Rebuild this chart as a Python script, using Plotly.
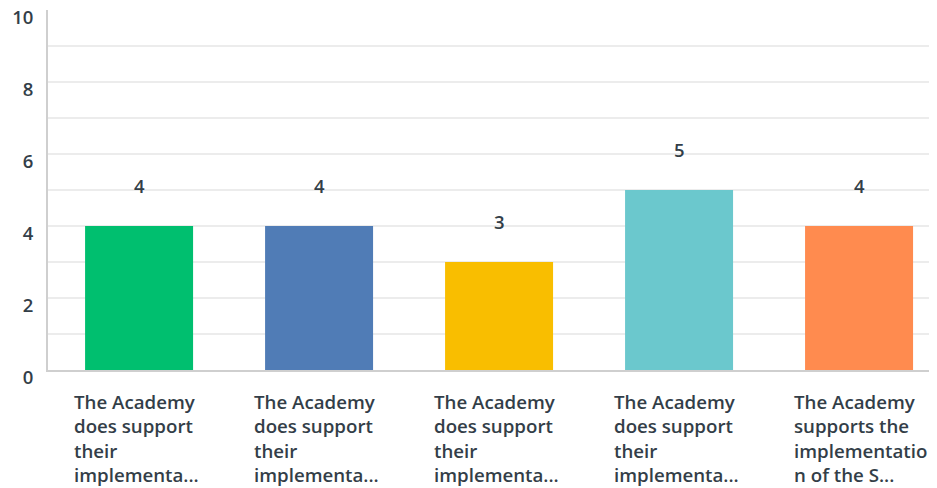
import plotly.graph_objects as go

categories = [
    "The Academy<br>does support<br>their<br>implementa...",
    "The Academy<br>does support<br>their<br>implementa...",
    "The Academy<br>does support<br>their<br>implementa...",
    "The Academy<br>does support<br>their<br>implementa...",
    "The Academy<br>supports the<br>implementatio<br>n of the S...",
]
values = [4, 4, 3, 5, 4]
colors = ["#00bf6f", "#507cb6", "#f9be00", "#6bc8cd", "#ff8b4f"]
y_ticks = [0, 1, 2, 3, 4, 5, 6, 7, 8, 9, 10]
y_ticktext = ["0", "", "2", "", "4", "", "6", "", "8", "", "10"]

TXT = "#333e48"
FONT = "Open Sans"

x = list(range(len(values)))
fig = go.Figure()
fig.add_trace(go.Bar(x=x, y=values, marker=dict(color=colors, line=dict(width=0)),
                     width=0.6, hoverinfo="skip"))

for i, (v, lab) in enumerate(zip(values, categories)):
    fig.add_annotation(x=i, y=v, xref="x", yref="y", text=str(v), showarrow=False,
                       yanchor="bottom", yshift=26,
                       font=dict(family=FONT, size=18.5, color=TXT, weight=600))
    fig.add_annotation(x=i, y=0, xref="x", yref="y", text=lab, showarrow=False,
                       xanchor="left", yanchor="top", align="left",
                       xshift=-67, yshift=-17,
                       font=dict(family=FONT, size=18.7, color=TXT, weight=600))

fig.update_layout(
    width=929, height=480,
    margin=dict(l=40, r=0, t=2, b=118, autoexpand=False),
    paper_bgcolor="white", plot_bgcolor="white",
    showlegend=False,
    xaxis=dict(range=[-0.506, 4.433], showticklabels=False, showgrid=False,
               zeroline=False, showline=True, linecolor="#cfcfcf", linewidth=2,
               fixedrange=True, automargin=False),
    yaxis=dict(range=[0, 10], tickvals=y_ticks, ticktext=y_ticktext,
               showgrid=True, gridcolor="#ececec", gridwidth=2,
               zeroline=False, showline=True, linecolor="#cfcfcf", linewidth=2,
               ticks="", ticklabelshift=8, ticklabelstandoff=9, automargin=False,
               ticklabeloverflow="allow",
               tickfont=dict(family=FONT, size=18.5, color=TXT, weight=600)),
)

fig.write_html("out.html")
